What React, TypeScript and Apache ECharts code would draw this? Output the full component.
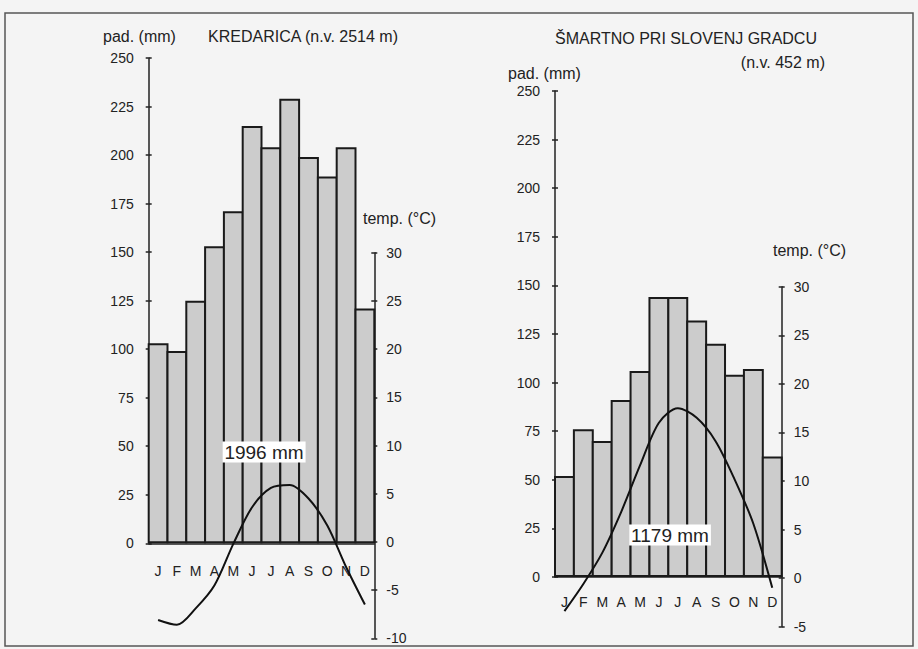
import React, { useEffect, useRef } from 'react';
import * as echarts from 'echarts';

// ---- data ----
const monthKeys = ['jan', 'feb', 'mar', 'apr', 'may', 'jun', 'jul', 'aug', 'sep', 'oct', 'nov', 'dec'];
const monthLabels = ['J', 'F', 'M', 'A', 'M', 'J', 'J', 'A', 'S', 'O', 'N', 'D'];

const kredaricaPrecip = [103, 99, 125, 153, 171, 215, 204, 229, 199, 189, 204, 121];
const kredaricaTemp = [-8.1, -8.6, -6.9, -4.5, -0.2, 3.6, 5.6, 5.9, 4.5, 1.7, -2.6, -6.5];

const smartnoPrecip = [52, 76, 70, 91, 106, 144, 144, 132, 120, 104, 107, 62];
const smartnoTemp = [-3.4, -0.6, 2.6, 6.8, 11.6, 16.0, 17.5, 16.5, 14.1, 10.2, 5.6, -1.0];

const kredaricaTitle = 'KREDARICA (n.v. 2514 m)';
const smartnoTitle = 'ŠMARTNO PRI SLOVENJ GRADCU';
const smartnoAltitude = '(n.v. 452 m)';
const kredaricaTotal = '1996 mm';
const smartnoTotal = '1179 mm';
const precipName = 'pad. (mm)';
const tempName = 'temp. (°C)';

const precipMin = 0;
const precipMax = 250;
const precipStep = 25;
const tempStep = 5;
const kredaricaTempMin = -10;
const smartnoTempMin = -5;
const tempMax = 30;

// ---- layout ----
const FONT = '"Liberation Sans", Arial, sans-serif';
const INK = '#222';

const panels = [
  {
    x: 148.7, w: 225.6, pTop: 58, pBase: 543.3, tTop: 252.7, tBot: 638.3,
    tMin: kredaricaTempMin, precip: kredaricaPrecip, temp: kredaricaTemp, monthMargin: 21,
  },
  {
    x: 555, w: 226.7, pTop: 91, pBase: 577, tTop: 286.7, tBot: 626.7,
    tMin: smartnoTempMin, precip: smartnoPrecip, temp: smartnoTemp, monthMargin: 18,
  },
];

function buildOption() {
  const grid: any[] = [];
  const xAxis: any[] = [];
  const yAxis: any[] = [];
  const series: any[] = [];
  const line = { show: true, lineStyle: { color: INK, width: 1.5 } };
  const label = { color: INK, fontFamily: FONT, fontSize: 14 };

  panels.forEach((p, i) => {
    grid.push({ left: p.x, width: p.w, top: p.pTop, height: p.pBase - p.pTop });
    grid.push({ left: p.x, width: p.w, top: p.tTop, height: p.tBot - p.tTop });

    xAxis.push({
      gridIndex: 2 * i, type: 'category', data: monthKeys, boundaryGap: true,
      axisLine: line, axisTick: { show: false },
      axisLabel: { ...label, interval: 0, margin: p.monthMargin, formatter: (_v: string, idx: number) => monthLabels[idx] },
      splitLine: { show: false },
    });
    xAxis.push({ gridIndex: 2 * i + 1, type: 'category', data: monthKeys, boundaryGap: true, show: false });

    yAxis.push({
      gridIndex: 2 * i, type: 'value', position: 'left', min: precipMin, max: precipMax, interval: precipStep,
      axisLine: line, axisTick: { show: true, inside: false, length: 3, lineStyle: { color: INK, width: 1.5 } },
      axisLabel: { ...label, margin: 15 }, splitLine: { show: false },
    });
    yAxis.push({
      gridIndex: 2 * i, type: 'value', position: 'left', min: precipMin, max: precipMax, interval: precipStep,
      axisLine: { show: false }, axisTick: { show: true, inside: true, length: 3, lineStyle: { color: INK, width: 1.5 } },
      axisLabel: { show: false }, splitLine: { show: false },
    });
    yAxis.push({
      gridIndex: 2 * i + 1, type: 'value', position: 'right', min: p.tMin, max: tempMax, interval: tempStep,
      axisLine: line, axisTick: { show: true, inside: false, length: 3, lineStyle: { color: INK, width: 1.5 } },
      axisLabel: { ...label, margin: 12 }, splitLine: { show: false },
    });
    yAxis.push({
      gridIndex: 2 * i + 1, type: 'value', position: 'right', min: p.tMin, max: tempMax, interval: tempStep,
      axisLine: { show: false }, axisTick: { show: true, inside: true, length: 3, lineStyle: { color: INK, width: 1.5 } },
      axisLabel: { show: false }, splitLine: { show: false },
    });

    series.push({
      type: 'bar', xAxisIndex: 2 * i, yAxisIndex: 4 * i, data: p.precip,
      barWidth: p.w / 12 + 2, barCategoryGap: '0%',
      itemStyle: { color: '#cccccc', borderColor: '#1a1a1a', borderWidth: 2 },
      z: 2,
    });
    series.push({
      type: 'line', xAxisIndex: 2 * i + 1, yAxisIndex: 4 * i + 2, data: p.temp,
      smooth: 0.3, symbol: 'none',
      lineStyle: { color: '#111', width: 2 },
      z: 3,
    });
  });

  const txt = (text: string, x: number, y: number, size: number, align = 'left', extra: any = {}) => ({
    type: 'text', x, y, z: 50,
    style: { text, fill: INK, font: `${size}px ${FONT}`, textAlign: align, textVerticalAlign: 'middle', ...extra },
  });

  const graphic = [
    { type: 'rect', shape: { x: 5, y: 13, width: 908, height: 633 }, style: { fill: 'none', stroke: '#555', lineWidth: 1.5 }, z: 1 },
    txt(precipName, 103, 36, 16),
    txt(kredaricaTitle, 208, 36, 16),
    txt(tempName, 363, 218, 16),
    txt(smartnoTitle, 555, 38, 16),
    txt(smartnoAltitude, 825, 62, 16, 'right'),
    txt(precipName, 508, 73, 16),
    txt(tempName, 773, 250, 16),
    txt(kredaricaTotal, 264, 452, 19, 'center', { backgroundColor: '#ffffff', padding: [1, 2] }),
    txt(smartnoTotal, 670, 535, 19, 'center', { backgroundColor: '#ffffff', padding: [1, 2] }),
  ];

  return {
    animation: false,
    backgroundColor: '#f4f4f4',
    grid, xAxis, yAxis, series, graphic,
  };
}

export default function App() {
  const ref = useRef<HTMLDivElement>(null);
  useEffect(() => {
    const chart = echarts.init(ref.current!, null, { renderer: 'svg' });
    chart.setOption(buildOption() as any);
    return () => chart.dispose();
  }, []);
  return <div ref={ref} style={{ position: 'fixed', left: 0, top: 0, width: 918, height: 649 }} />;
}
